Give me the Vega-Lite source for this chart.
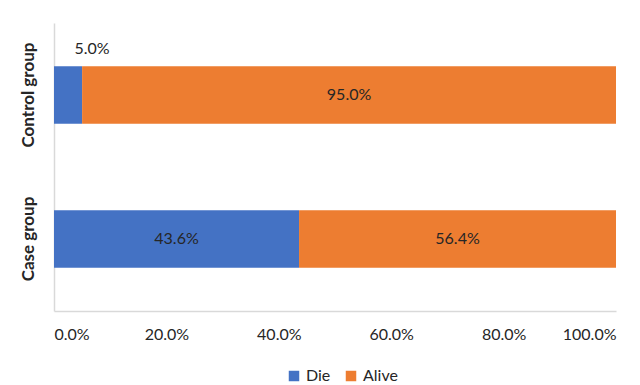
{
  "$schema": "https://vega.github.io/schema/vega-lite/v6.json",
  "autosize": {"type": "none"},
  "padding": {"left": 54, "top": 23, "right": 24, "bottom": 74},
  "width": 562,
  "height": 288,
  "background": "white",
  "config": {
    "font": "Lato",
    "view": {"stroke": null},
    "axis": {"labelFont": "Lato", "labelColor": "#262626", "labelFontSize": 16}
  },
  "data": {
    "values": [
      {"group": "Control group", "status": "Die", "rank": 1, "value": 0.05},
      {"group": "Control group", "status": "Alive", "rank": 2, "value": 0.95},
      {"group": "Case group", "status": "Die", "rank": 1, "value": 0.436},
      {"group": "Case group", "status": "Alive", "rank": 2, "value": 0.564}
    ]
  },
  "transform": [
    {"stack": "value", "groupby": ["group"], "sort": [{"field": "rank"}], "as": ["v0", "v1"]},
    {"calculate": "(datum.v0 + datum.v1) / 2", "as": "mid"}
  ],
  "encoding": {
    "y": {
      "field": "group",
      "type": "nominal",
      "sort": ["Control group", "Case group"],
      "scale": {"paddingInner": 0.6, "paddingOuter": 0.3},
      "axis": {
        "title": null,
        "labelAngle": 270,
        "labelFontWeight": "bold",
        "labelFontSize": 17,
        "labelPadding": 17,
        "ticks": false,
        "domainColor": "#d9d9d9",
        "domainWidth": 1.5
      }
    }
  },
  "layer": [
    {
      "mark": {"type": "bar"},
      "encoding": {
        "x": {
          "field": "v0",
          "type": "quantitative",
          "scale": {"domain": [0, 1]},
          "axis": {
            "title": null,
            "format": ".1%",
            "values": [0, 0.2, 0.4, 0.6, 0.8, 1],
            "grid": false,
            "ticks": false,
            "labelPadding": 15,
            "domainColor": "#d9d9d9",
            "domainWidth": 1.5
          }
        },
        "x2": {"field": "v1"},
        "color": {
          "field": "status",
          "type": "nominal",
          "scale": {"domain": ["Die", "Alive"], "range": ["#4472C4", "#ED7D31"]},
          "legend": {
            "title": null,
            "orient": "none",
            "legendX": 232,
            "legendY": 345,
            "direction": "horizontal",
            "symbolType": "square",
            "symbolSize": 110,
            "symbolStrokeWidth": 0,
            "symbolOffset": 0,
            "labelFont": "Lato",
            "labelFontSize": 16,
            "labelColor": "#262626",
            "labelOffset": 4,
            "columnPadding": 12
          }
        }
      }
    },
    {
      "transform": [{"filter": "!(datum.group === 'Control group' && datum.status === 'Die')"}],
      "mark": {"type": "text", "fontSize": 16, "color": "#262626", "font": "Lato"},
      "encoding": {
        "x": {"field": "mid", "type": "quantitative"},
        "text": {"field": "value", "type": "quantitative", "format": ".1%"}
      }
    },
    {
      "transform": [{"filter": "datum.group === 'Control group' && datum.status === 'Die'"}],
      "mark": {"type": "text", "fontSize": 16, "color": "#262626", "font": "Lato", "dx": 24, "dy": -46},
      "encoding": {
        "x": {"field": "mid", "type": "quantitative"},
        "text": {"field": "value", "type": "quantitative", "format": ".1%"}
      }
    }
  ]
}
